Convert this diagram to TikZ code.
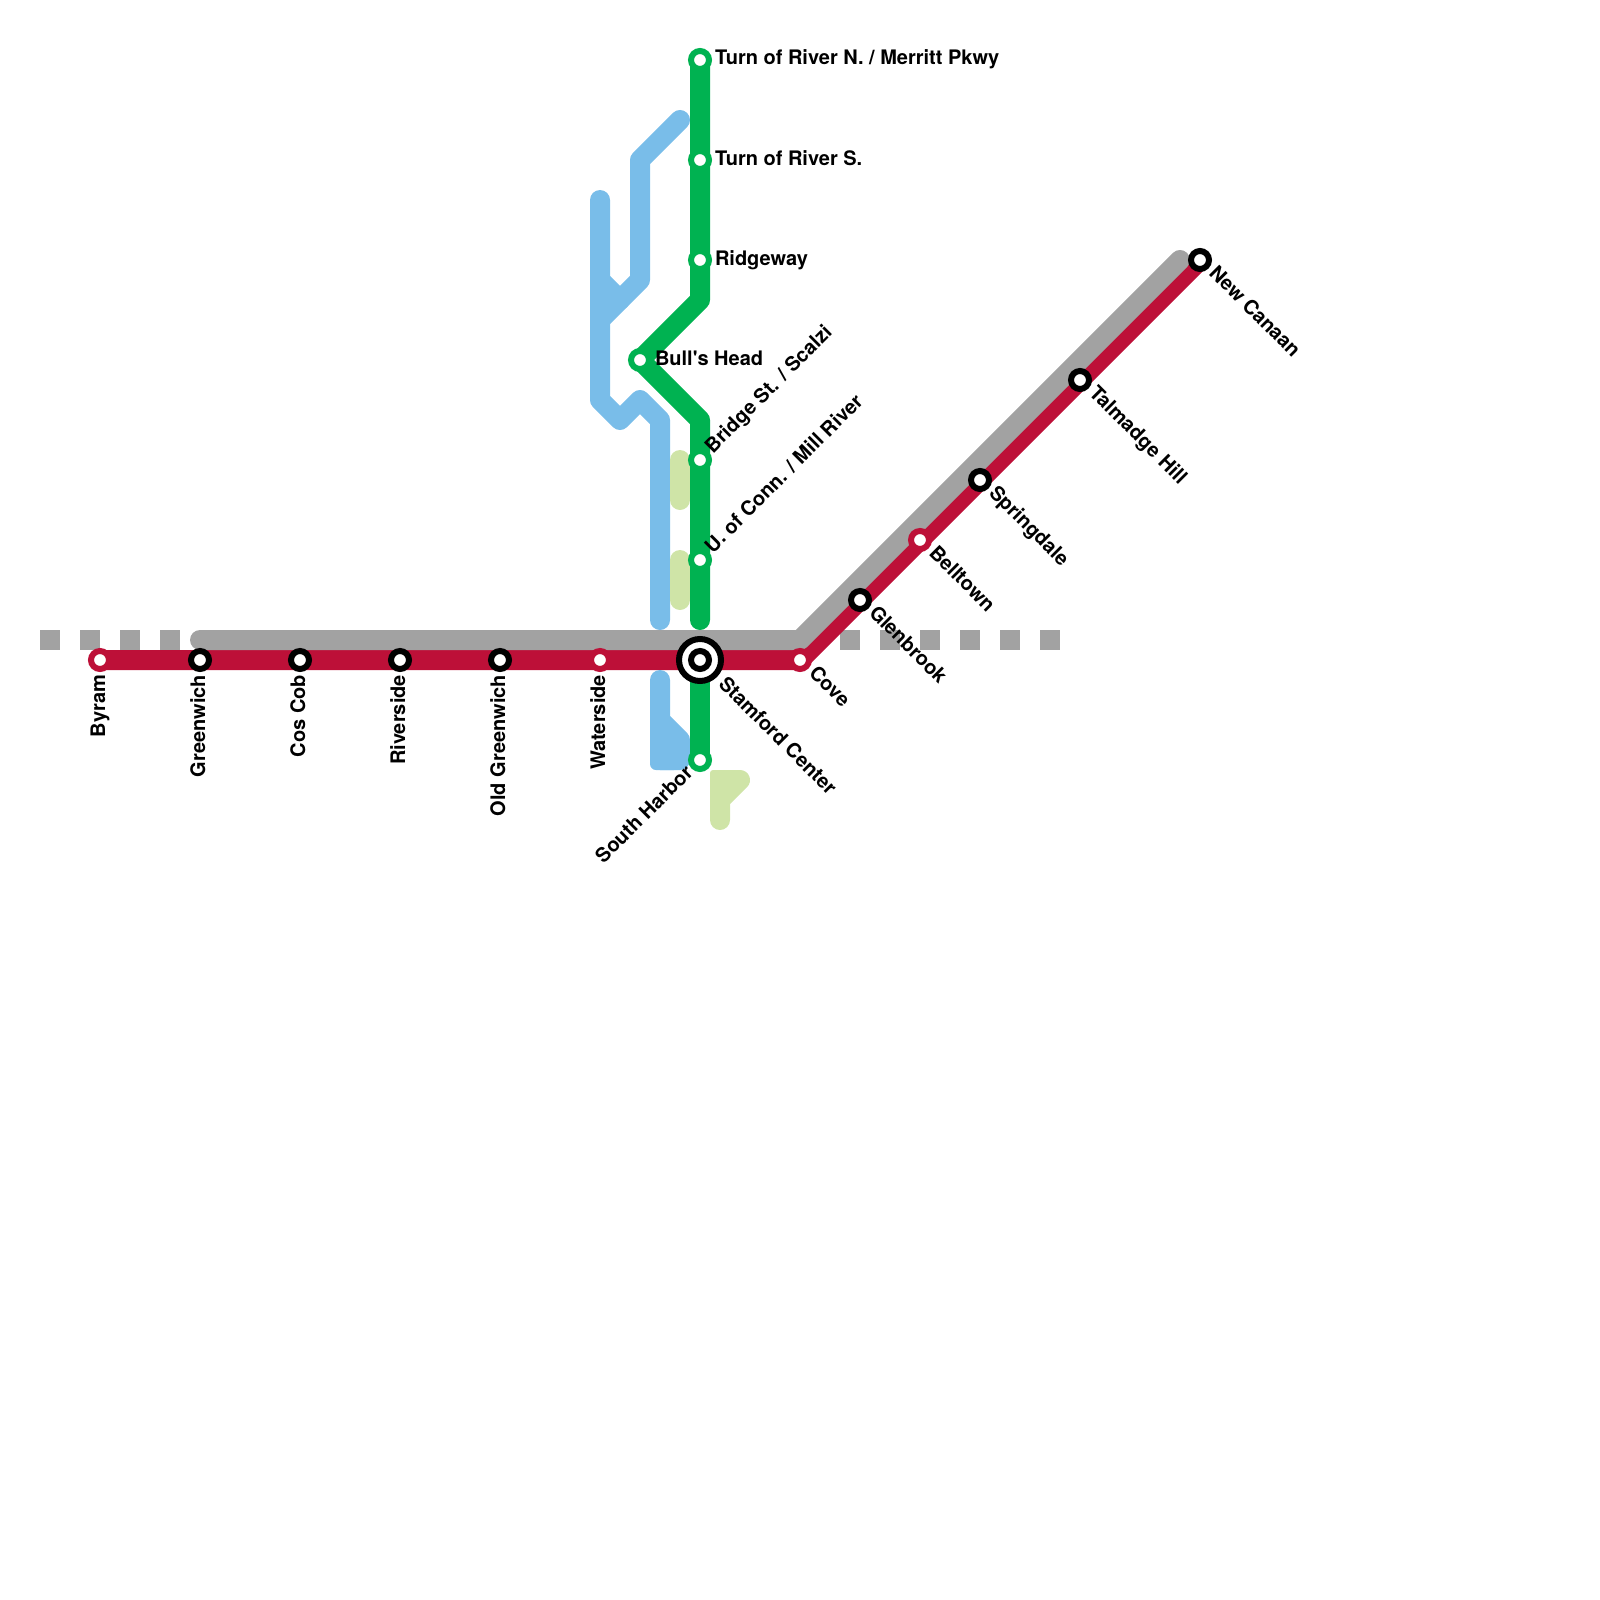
\documentclass[tikz,border=0pt]{standalone}
\usepackage{fontspec}
\setmainfont{TeX Gyre Heros}
\usepackage{xcolor}
\usetikzlibrary{positioning}
\definecolor{crimson}{HTML}{BD1038}
\definecolor{silver}{HTML}{A2A2A2}
\definecolor{sky}{HTML}{79BDE9}
\definecolor{leaf}{HTML}{00B251}
\definecolor{lime}{HTML}{CFE4A7}

\begin{document}
\begin{tikzpicture}[
    x=0.5pt, y=-0.5pt,
    track/.style={line width=10pt, line cap=round, line join=round},
    stub/.style={rectangle, fill=silver, minimum size=10pt, inner sep=0pt, outer sep=0pt},
    stop/.style={draw=#1, circle, fill=white, line width=3pt, minimum size=9pt, inner sep=0pt, outer sep=0pt},
    hub/.style={draw=black, circle, fill=white, line width=3pt, minimum size=21pt, inner sep=0pt, outer sep=0pt},
    lbl/.style={font=\fontsize{10}{12}\selectfont\bfseries, inner sep=0pt, outer sep=0pt},
    lblE/.style={lbl, anchor=base west, xshift=7.5pt, yshift=-2.5pt},
    lblS/.style={lbl, anchor=base east, xshift=2.5pt, yshift=-7.5pt, rotate=90},
    lblDn/.style={lbl, anchor=base west, xshift=4pt, yshift=-7pt, rotate=-45},
    lblUp/.style={lbl, anchor=base west, xshift=6.5pt, yshift=3pt, rotate=45},
    lblSW/.style={lbl, anchor=base east, xshift=-3pt, yshift=-7pt, rotate=45},
]
\useasboundingbox (0,0) rectangle (1600,1600);

% gray stubs
\node[stub] (sa1) at (50,640) {};
\node[stub] (sa2) at (90,640) {};
\node[stub] (sa3) at (130,640) {};
\node[stub] (sa4) at (170,640) {};
\node[stub] (sb1) at (850,640) {};
\node[stub] (sb2) at (890,640) {};
\node[stub] (sb3) at (930,640) {};
\node[stub] (sb4) at (970,640) {};
\node[stub] (sb5) at (1010,640) {};
\node[stub] (sb6) at (1050,640) {};

% bends and line ends
\coordinate (g1) at (200,640);
\coordinate (g2) at (800,640);
\coordinate (g3) at (1180,260);
\coordinate (b1) at (600,200);
\coordinate (b2) at (600,400);
\coordinate (b3) at (620,420);
\coordinate (b4) at (640,400);
\coordinate (b5) at (660,420);
\coordinate (b6) at (660,620);
\coordinate (b7) at (680,120);
\coordinate (b8) at (640,160);
\coordinate (b9) at (640,280);
\coordinate (b10) at (600,320);
\coordinate (b11) at (600,280);
\coordinate (b12) at (620,300);
\coordinate (c1) at (660,680);
\coordinate (c2) at (660,760);
\coordinate (c3) at (680,760);
\coordinate (c4) at (680,740);
\coordinate (c5) at (660,720);
\coordinate (v1) at (700,300);
\coordinate (v2) at (700,420);
\coordinate (v3) at (700,620);
\coordinate (l1) at (680,460);
\coordinate (l2) at (680,500);
\coordinate (l3) at (680,560);
\coordinate (l4) at (680,600);
\coordinate (l5) at (720,820);
\coordinate (l6) at (720,780);
\coordinate (l7) at (740,780);
\coordinate (l8) at (720,800);

% stations
\coordinate (byramP) at (100,660);
\coordinate (stamfordP) at (700,660);
\coordinate (coveP) at (800,660);
\coordinate (canaanP) at (1200,260);

% lines
\draw[track, crimson] (byramP) -- (stamfordP) -- (coveP) -- (canaanP);
\draw[track, silver] (g1) -- (g2) -- (g3);
\draw[track, sky] (b1) -- (b2) -- (b3) -- (b4) -- (b5) -- (b6);
\draw[track, sky] (b7) -- (b8) -- (b9) -- (b10);
\draw[track, sky] (b11) -- (b12);
\draw[track, sky] (c1) -- (c2) -- (c3) -- (c4) -- (c5) -- cycle;
\fill[sky, rounded corners=3pt] (650,745) rectangle (680,770);
\draw[track, lime] (l1) -- (l2);
\draw[track, lime] (l3) -- (l4);
\draw[track, lime] (l5) -- (l6) -- (l7) -- (l8) -- cycle;
\fill[lime, rounded corners=1.5pt] (710,770) rectangle (730,800);

\draw[track, leaf] (700,60) -- (v1) -- (640,360) -- (v2) -- (v3);
\draw[track, leaf] (stamfordP) -- (700,760);

\node[stop=crimson] (byram) at (byramP) {};
\node[stop=black] (greenwich) at (200,660) {};
\node[stop=black] (coscob) at (300,660) {};
\node[stop=black] (riverside) at (400,660) {};
\node[stop=black] (oldgreenwich) at (500,660) {};
\node[stop=crimson] (waterside) at (600,660) {};
\node[stop=crimson] (cove) at (coveP) {};
\node[stop=black] (glenbrook) at (860,600) {};
\node[stop=crimson] (belltown) at (920,540) {};
\node[stop=black] (springdale) at (980,480) {};
\node[stop=black] (talmadge) at (1080,380) {};
\node[stop=black] (newcanaan) at (canaanP) {};
\node[stop=leaf] (riverN) at (700,60) {};
\node[stop=leaf] (riverS) at (700,160) {};
\node[stop=leaf] (ridgeway) at (700,260) {};
\node[stop=leaf] (bulls) at (640,360) {};
\node[stop=leaf] (bridge) at (700,460) {};
\node[stop=leaf] (uconn) at (700,560) {};
\node[stop=leaf] (harbor) at (700,760) {};
\node[hub] (stamford) at (stamfordP) {};
\node[stop=black] (stamfordIn) at (stamfordP) {};

% labels
\node[lblS] (byramL) at (byram) {Byram};
\node[lblS] (greenwichL) at (greenwich) {Greenwich};
\node[lblS] (coscobL) at (coscob) {Cos Cob};
\node[lblS] (riversideL) at (riverside) {Riverside};
\node[lblS] (oldgreenwichL) at (oldgreenwich) {Old Greenwich};
\node[lblS] (watersideL) at (waterside) {Waterside};
\node[lblE] (riverNL) at (riverN) {Turn of River N. / Merritt Pkwy};
\node[lblE] (riverSL) at (riverS) {Turn of River S.};
\node[lblE] (ridgewayL) at (ridgeway) {Ridgeway};
\node[lblE] (bullsL) at (bulls) {Bull\textquotesingle s Head};
\node[lblUp] (bridgeL) at (bridge) {Bridge St. / Scalzi};
\node[lblUp] (uconnL) at (uconn) {U. of Conn. / Mill River};
\node[lblSW] (harborL) at (harbor) {South Harbor};
\node[xshift=4.8pt, yshift=-5.5pt, lblDn] (stamfordL) at (stamford) {Stamford Center};
\node[lblDn] (coveL) at (cove) {Cove};
\node[lblDn] (glenbrookL) at (glenbrook) {Glenbrook};
\node[lblDn] (belltownL) at (belltown) {Belltown};
\node[lblDn] (springdaleL) at (springdale) {Springdale};
\node[lblDn] (talmadgeL) at (talmadge) {Talmadge Hill};
\node[lblDn] (newcanaanL) at (newcanaan) {New Canaan};
\end{tikzpicture}
\end{document}
